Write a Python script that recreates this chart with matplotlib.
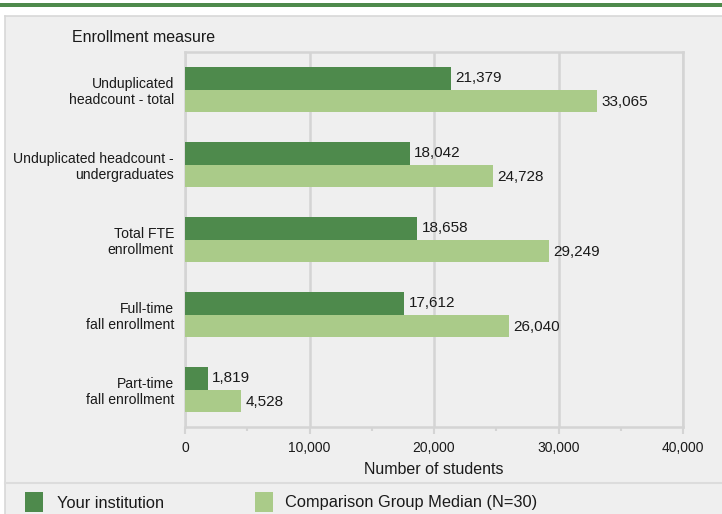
import numpy as np
import matplotlib.pyplot as plt
from matplotlib.patches import Rectangle
from matplotlib.lines import Line2D

plt.rcParams['font.family'] = ['Liberation Sans', 'DejaVu Sans']

categories = ['Unduplicated\nheadcount - total',
              'Unduplicated headcount -\nundergraduates',
              'Total FTE\nenrollment',
              'Full-time\nfall enrollment',
              'Part-time\nfall enrollment']
institution = [21379, 18042, 18658, 17612, 1819]
comparison = [33065, 24728, 29249, 26040, 4528]
xticks = [0, 10000, 20000, 30000, 40000]

dark = '#4e8a4c'
light = '#aacb89'
grid = '#d4d4d4'
panel = '#efefef'
txt = '#1a1a1a'

W, H = 722, 514
fig = plt.figure(figsize=(W / 100, H / 100), dpi=100)
fig.patch.set_facecolor('white')

# background panel, top band, separators
fig.add_artist(Rectangle((5 / W, 0), 1, 1 - 16 / H, transform=fig.transFigure,
                         facecolor=panel, edgecolor='none', zorder=-10))
fig.add_artist(Line2D([5 / W, 1], [1 - 16 / H] * 2, transform=fig.transFigure,
                      color='#d8d8d8', lw=1.2))
fig.add_artist(Line2D([5 / W] * 2, [0, 1 - 16 / H], transform=fig.transFigure,
                      color='#d8d8d8', lw=1.2))
fig.add_artist(Rectangle((0, 1 - 7 / H), 1, 4.5 / H, transform=fig.transFigure,
                         facecolor=dark, edgecolor='none'))
fig.add_artist(Line2D([5 / W, 1], [1 - 483 / H] * 2, transform=fig.transFigure,
                      color='#dcdcdc', lw=1.5))

ax = fig.add_axes([185 / W, 87 / H, 498 / W, 375 / H])
ax.set_facecolor(panel)

y = np.arange(len(categories))
h = 0.305
ax.barh(y - h / 2, institution, height=h, color=dark, zorder=3)
ax.barh(y + h / 2, comparison, height=h, color=light, zorder=3)

for i in range(len(categories)):
    ax.text(institution[i] + 350, y[i] - h / 2, f'{institution[i]:,}',
            va='center', ha='left', fontsize=11, color=txt, zorder=4)
    ax.text(comparison[i] + 350, y[i] + h / 2 + 0.02, f'{comparison[i]:,}',
            va='center', ha='left', fontsize=11, color=txt, zorder=4)

ax.set_ylim(len(categories) - 0.5, -0.5)
ax.set_xlim(0, 40000)
ax.set_yticks(y)
ax.set_yticklabels(categories, fontsize=10.1, color=txt)
ax.tick_params(axis='y', length=0, pad=8)

ax.set_xticks(xticks)
ax.set_xticklabels([f'{v:,}' for v in xticks], fontsize=10, color=txt)
ax.set_xticks(np.arange(5000, 40000, 10000), minor=True)
ax.tick_params(axis='x', which='major', length=5, width=1.5, color=grid, pad=5)
ax.tick_params(axis='x', which='minor', length=3, width=1.5, color=grid)
ax.grid(axis='x', color=grid, lw=1.8, zorder=0)
for s in ax.spines.values():
    s.set_color(grid)
    s.set_linewidth(1.8)
ax.set_xlabel('Number of students', fontsize=11.5, color=txt, labelpad=5)

fig.text(72 / W, 1 - 37 / H, 'Enrollment measure', fontsize=11.5,
         color=txt, va='center', ha='left')

# legend
fig.add_artist(Rectangle((25 / W, 1 - 512 / H), 18 / W, 20 / H,
                         transform=fig.transFigure, facecolor=dark, edgecolor='none'))
fig.text(57 / W, 1 - 503 / H, 'Your institution', fontsize=11.8,
         color=txt, va='center')
fig.add_artist(Rectangle((255 / W, 1 - 512 / H), 18 / W, 20 / H,
                         transform=fig.transFigure, facecolor=light, edgecolor='none'))
fig.text(285 / W, 1 - 503 / H, 'Comparison Group Median (N=30)', fontsize=11.8,
         color=txt, va='center')

fig.savefig('out.png', dpi=100)
